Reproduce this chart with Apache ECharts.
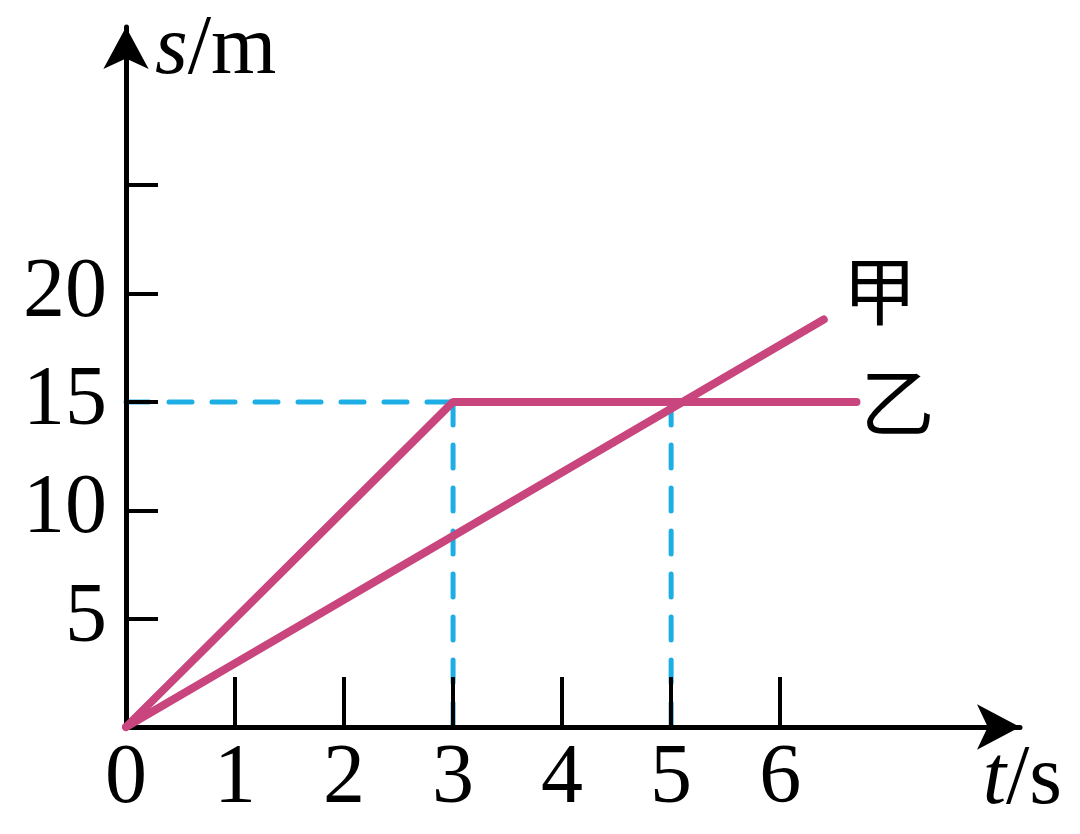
<!DOCTYPE html>
<html><head><meta charset="utf-8">
<script src="https://cdn.jsdelivr.net/npm/echarts@6/dist/echarts.min.js"></script>
<style>html,body{margin:0;padding:0;background:#fff}#c{width:1080px;height:834px}</style>
</head><body><div id="c"></div>
<script>
// Axis ticks / labels
const xTicks = [1, 2, 3, 4, 5, 6];
const xLabels = [0, 1, 2, 3, 4, 5, 6];
const yTicks = [5, 10, 15, 20, 25];
const yLabels = [5, 10, 15, 20];
// 甲
const jiaT = [0, 6.4];
const jiaS = [0, 18.8];
// 乙
const yiT = [0, 3, 6.7];
const yiS = [0, 15, 15];
// dashed guides
const guideAT = [0, 3];
const guideAS = [15, 15];
const guideBT = [3, 3];
const guideBS = [15, 0];
const guideCT = [5, 5];
const guideCS = [15, 0];

const pair = (t, s) => t.map((v, i) => [v, s[i]]);
const PINK = '#c8457e';
const BLUE = '#1eaee6';
const SERIF = '"Liberation Serif","Times New Roman",serif';
const CJK = '"Noto Sans CJK SC",sans-serif';

const guideStyle = {color: BLUE, width: 5, type: [23, 20], cap: 'round'};
function guide(t, s) {
  return {type: 'line', data: pair(t, s), showSymbol: false, silent: true, z: 1,
    lineStyle: guideStyle, clip: false};
}

const chart = echarts.init(document.getElementById('c'), null, {renderer: 'canvas'});
chart.setOption({
  animation: false,
  backgroundColor: '#fff',
  grid: {left: 126, top: 27, right: 60, bottom: 107, containLabel: false},
  xAxis: {
    type: 'value', min: 0, max: 8.2, z: 3,
    splitLine: {show: false},
    axisLine: {show: true, onZero: false, symbol: ['none', 'arrow'], symbolSize: [34, 43],
      lineStyle: {color: '#000', width: 5}},
    axisTick: {show: true, inside: true, length: 50, customValues: xTicks,
      lineStyle: {color: '#000', width: 4}},
    axisLabel: {show: true, customValues: xLabels, margin: 11, color: '#000',
      fontFamily: SERIF, fontSize: 84},
    name: '{i|t}/s', nameLocation: 'end', nameGap: 42,
    nameTextStyle: {align: 'right', verticalAlign: 'top', padding: [12, 0, 0, 0],
      fontFamily: SERIF, fontSize: 84, color: '#000',
      rich: {i: {fontStyle: 'italic', fontFamily: SERIF, fontSize: 84, color: '#000'}}}
  },
  yAxis: {
    type: 'value', min: 0, max: 32.3, z: 3,
    splitLine: {show: false},
    axisLine: {show: true, onZero: false, symbol: ['none', 'arrow'], symbolSize: [34, 42],
      lineStyle: {color: '#000', width: 5}},
    axisTick: {show: true, inside: true, length: 32, customValues: yTicks,
      lineStyle: {color: '#000', width: 4}},
    axisLabel: {show: true, customValues: yLabels, margin: 19, color: '#000',
      fontFamily: SERIF, fontSize: 84},
    name: '{i|s}/m', nameLocation: 'end', nameGap: -24,
    nameTextStyle: {align: 'left', verticalAlign: 'middle', padding: [0, 0, 0, 29],
      fontFamily: SERIF, fontSize: 84, color: '#000',
      rich: {i: {fontStyle: 'italic', fontFamily: SERIF, fontSize: 84, color: '#000'}}}
  },
  series: [
    guide(guideAT, guideAS),
    guide(guideBT, guideBS),
    guide(guideCT, guideCS),
    {
      name: '甲', type: 'line', data: pair(jiaT, jiaS), showSymbol: false, z: 4, clip: false,
      lineStyle: {color: PINK, width: 8, cap: 'round'},
      endLabel: {show: true, formatter: '甲', fontFamily: CJK, fontSize: 74, color: '#000',
        distance: 4, offset: [15, -29]}
    },
    {
      name: '乙', type: 'line', data: pair(yiT, yiS), showSymbol: false, z: 4, clip: false,
      lineStyle: {color: PINK, width: 8, cap: 'round'},
      endLabel: {show: true, formatter: '乙', fontFamily: CJK, fontSize: 74, color: '#000',
        distance: 4}
    }
  ]
});
</script>
</body></html>
